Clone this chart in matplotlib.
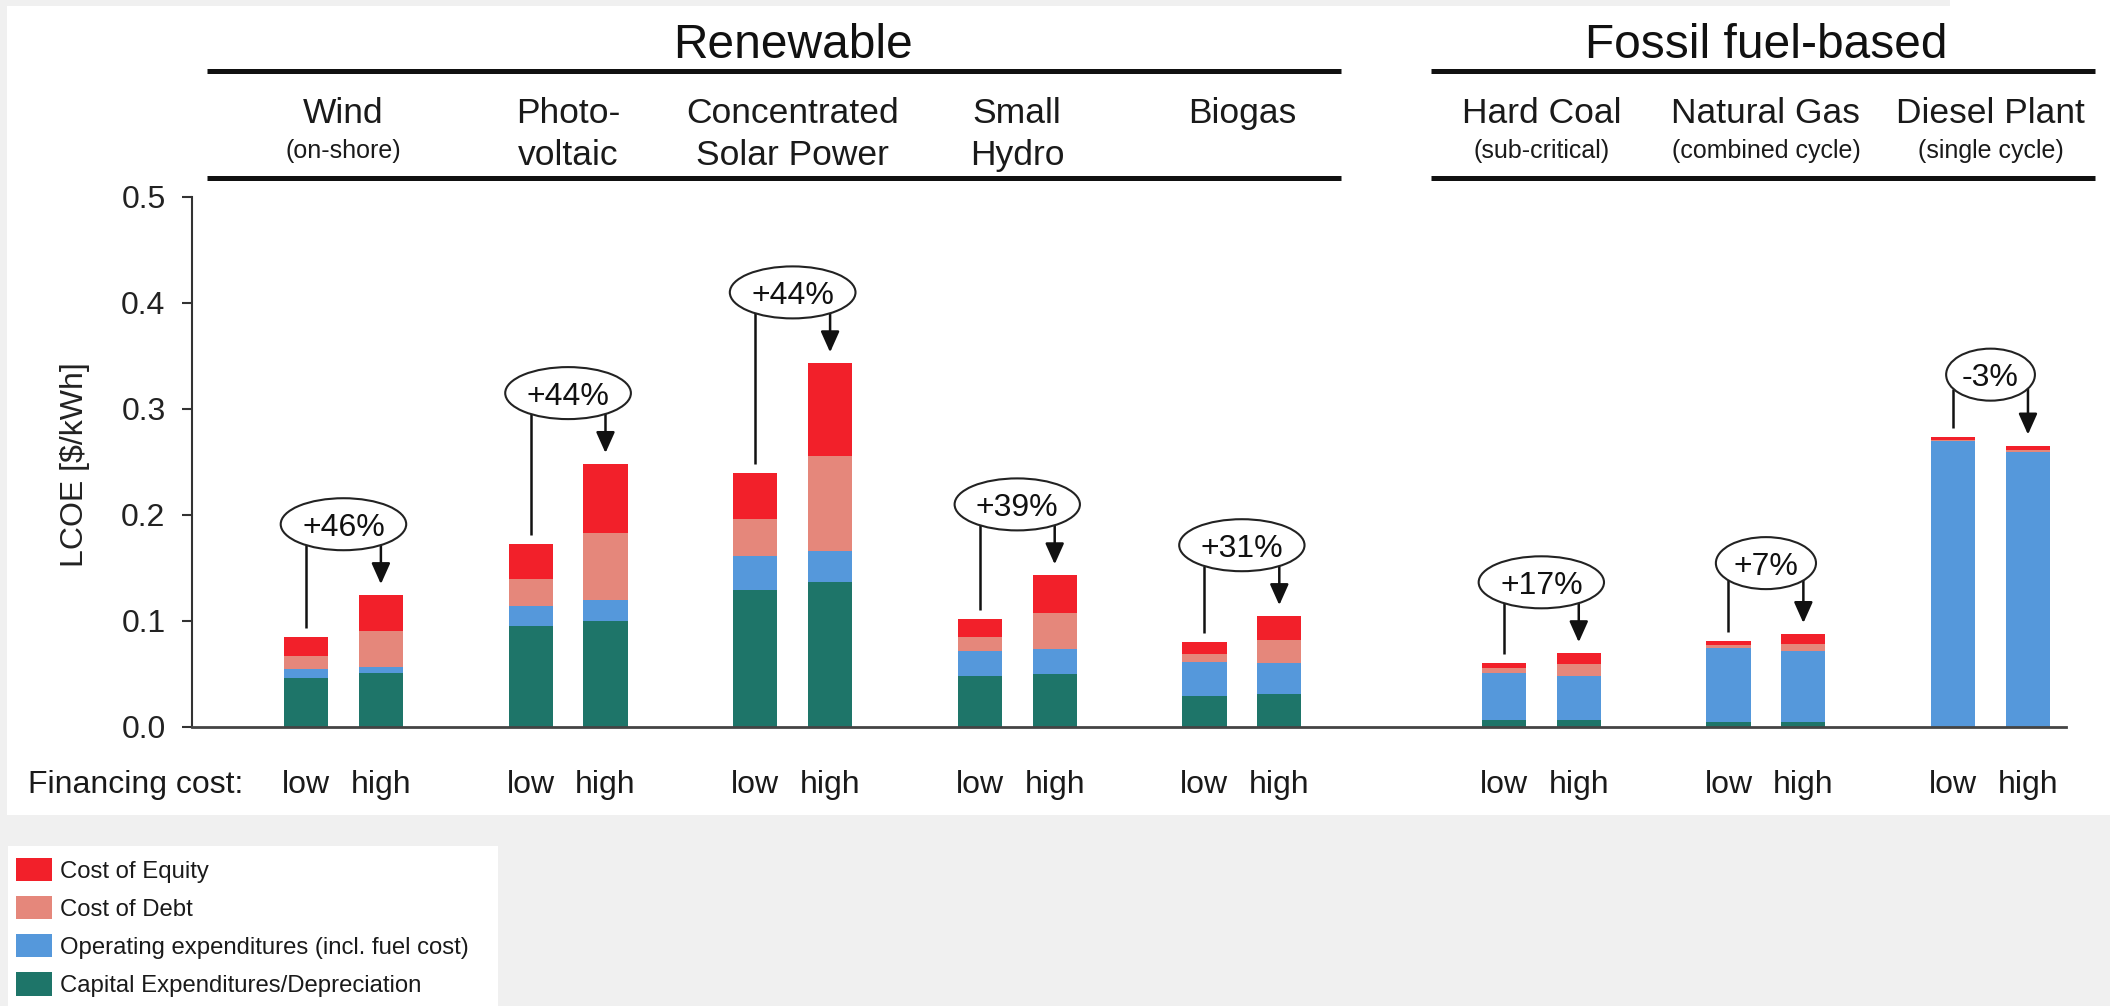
import matplotlib
matplotlib.use("Agg")
import matplotlib.pyplot as plt
from matplotlib.patches import Rectangle, Ellipse, Patch
from matplotlib import transforms
import numpy as np

plt.rcParams['font.family'] = ['Liberation Sans', 'DejaVu Sans']

# ---------------- data ----------------
technologies = ["Wind", "Photo-\nvoltaic", "Concentrated\nSolar Power", "Small\nHydro", "Biogas",
                "Hard Coal", "Natural Gas", "Diesel Plant"]
tech_notes = ["(on-shore)", "", "", "", "", "(sub-critical)", "(combined cycle)", "(single cycle)"]
groups = ["Renewable", "Fossil fuel-based"]
group_members = [[0, 1, 2, 3, 4], [5, 6, 7]]
financing_labels = ["low", "high"]
change_labels = ["+46%", "+44%", "+44%", "+39%", "+31%", "+17%", "+7%", "-3%"]

capex_low   = [0.0460, 0.0956, 0.1297, 0.0484, 0.0295, 0.0070, 0.0050, 0.0000]
opex_low    = [0.0083, 0.0190, 0.0320, 0.0236, 0.0315, 0.0435, 0.0696, 0.2696]
debt_low    = [0.0131, 0.0254, 0.0346, 0.0127, 0.0080, 0.0051, 0.0029, 0.0012]
equity_low  = [0.0177, 0.0327, 0.0437, 0.0173, 0.0115, 0.0051, 0.0035, 0.0032]

capex_high  = [0.0505, 0.0998, 0.1365, 0.0500, 0.0316, 0.0070, 0.0050, 0.0000]
opex_high   = [0.0064, 0.0198, 0.0299, 0.0237, 0.0291, 0.0410, 0.0666, 0.2590]
debt_high   = [0.0341, 0.0636, 0.0897, 0.0341, 0.0213, 0.0110, 0.0064, 0.0020]
equity_high = [0.0333, 0.0648, 0.0869, 0.0352, 0.0225, 0.0105, 0.0096, 0.0044]

component_names = ["Capital Expenditures/Depreciation", "Operating expenditures (incl. fuel cost)",
                   "Cost of Debt", "Cost of Equity"]
component_colors = ["#1E7569", "#5598DB", "#E5877B", "#F2202A"]

# ---------------- layout ----------------
W, H = 2110, 1006
fig = plt.figure(figsize=(W / 100, H / 100), dpi=100)
fig.patch.set_facecolor("#F0F0F0")

def fx(px):
    return px / W

def fy(py):
    return 1 - py / H

# white panels
fig.add_artist(Rectangle((fx(7), fy(815)), fx(W - 7), (815 - 6) / H, transform=fig.transFigure,
                         facecolor="white", edgecolor="none", zorder=-5))
fig.add_artist(Rectangle((fx(1950), fy(6)), fx(160), 6 / H, transform=fig.transFigure,
                         facecolor="white", edgecolor="none", zorder=-5))
fig.add_artist(Rectangle((fx(8), 0), fx(490), (H - 846) / H, transform=fig.transFigure,
                         facecolor="white", edgecolor="none", zorder=-5))

ax = fig.add_axes([fx(192), fy(727), (2066 - 192) / W, (727 - 197) / H])
ax.patch.set_visible(False)

# x positions: group spacing 3 units, extra gap before fossil group
group_start = []
pos = 0
for g, members in enumerate(group_members):
    for m in members:
        group_start.append(pos)
        pos += 3
    pos += 1
group_start = np.array(group_start, dtype=float)
x_low = group_start
x_high = group_start + 1
bar_w = 0.59

ax.set_xlim(-1.523, 23.508)
ax.set_ylim(0, 0.5)

lows = [capex_low, opex_low, debt_low, equity_low]
highs = [capex_high, opex_high, debt_high, equity_high]
bottom_low = np.zeros(len(technologies))
bottom_high = np.zeros(len(technologies))
for vals_l, vals_h, col in zip(lows, highs, component_colors):
    ax.bar(x_low, vals_l, bar_w, bottom=bottom_low, color=col, edgecolor="none", zorder=2)
    ax.bar(x_high, vals_h, bar_w, bottom=bottom_high, color=col, edgecolor="none", zorder=2)
    bottom_low += np.array(vals_l)
    bottom_high += np.array(vals_h)
total_low = bottom_low
total_high = bottom_high

# axes styling
for s in ["top", "right"]:
    ax.spines[s].set_visible(False)
ax.spines["left"].set_bounds(0, 0.5)
ax.spines["left"].set_linewidth(1.5)
ax.spines["left"].set_color("#333333")
ax.spines["bottom"].set_linewidth(2.0)
ax.spines["bottom"].set_color("#444444")
ax.set_yticks([0.0, 0.1, 0.2, 0.3, 0.4, 0.5])
ax.set_yticklabels(["0.0", "0.1", "0.2", "0.3", "0.4", "0.5"])
ax.tick_params(axis="y", direction="out", length=7, width=1.5, pad=12, labelsize=23,
               color="#333333", labelcolor="#222222")
ax.set_xticks([])
fig.text(fx(75), fy(465), "LCOE [$/kWh]", rotation=90, ha="center", va="center",
         fontsize=23, color="#222222")

# financing labels
tr_lab = transforms.blended_transform_factory(ax.transData, fig.transFigure)
for xl, xh in zip(x_low, x_high):
    ax.text(xl, fy(793), financing_labels[0], transform=tr_lab, ha="center", va="baseline",
            fontsize=23, color="#1a1a1a")
    ax.text(xh, fy(793), financing_labels[1], transform=tr_lab, ha="center", va="baseline",
            fontsize=23, color="#1a1a1a")
fig.text(fx(28), fy(793), "Financing cost:", ha="left", va="baseline", fontsize=23, color="#1a1a1a")

# headers
centers = (x_low + x_high) / 2
for i, (name, note) in enumerate(zip(technologies, tech_notes)):
    lines = name.split("\n")
    ax.text(centers[i], fy(123), lines[0], transform=tr_lab, ha="center", va="baseline",
            fontsize=25.5, color="#1a1a1a")
    if len(lines) > 1:
        ax.text(centers[i], fy(165), lines[1], transform=tr_lab, ha="center", va="baseline",
                fontsize=25.5, color="#1a1a1a")
    if note:
        ax.text(centers[i], fy(158), note, transform=tr_lab, ha="center", va="baseline",
                fontsize=18, color="#1a1a1a")

line_spans = [(-1.32, 13.83), (15.02, 23.9)]
for g, members in enumerate(group_members):
    gc = (x_low[members[0]] + x_high[members[-1]]) / 2
    ax.text(gc, fy(58), groups[g], transform=tr_lab, ha="center", va="baseline",
            fontsize=34.5, color="#111111")
    a, b = line_spans[g]
    for yy in (71, 178):
        ax.plot([a, b], [fy(yy), fy(yy)], transform=tr_lab, color="#111111", lw=3.6,
                solid_capstyle="butt", clip_on=False)

# change annotations
fig.canvas.draw()
renderer = fig.canvas.get_renderer()
px_x = 1874 / (23.508 + 1.523)
px_y = 530 / 0.5
ell_h = 52 / px_y
for i, lab in enumerate(change_labels):
    cx = centers[i]
    cy = total_high[i] + 0.067
    t = ax.text(cx, cy, lab, ha="center", va="center_baseline", fontsize=23, color="#111111", zorder=6)
    bb = t.get_window_extent(renderer=renderer)
    ell_w = (bb.width * 1.42 + 8) / px_x
    ax.add_patch(Ellipse((cx, cy), ell_w, ell_h, facecolor="white", edgecolor="#222222",
                         lw=1.5, zorder=5))

    def edge_y(x):
        r = (x - cx) / (ell_w / 2)
        r = min(abs(r), 0.99)
        return cy - (ell_h / 2) * np.sqrt(1 - r * r)

    xl = x_low[i]
    ax.plot([xl, xl], [total_low[i] + 0.0085, edge_y(xl)], color="#111111", lw=1.8,
            solid_capstyle="butt", zorder=4)
    xh = x_high[i]
    ax.annotate("", xy=(xh, total_high[i] + 0.0105), xytext=(xh, edge_y(xh)),
                arrowprops=dict(arrowstyle="-|>,head_length=0.85,head_width=0.38", lw=1.8,
                                color="#111111", mutation_scale=15, shrinkA=0, shrinkB=0),
                zorder=4)

# legend
handles = [Patch(facecolor=component_colors[k], edgecolor="none", label=component_names[k])
           for k in [3, 2, 1, 0]]
fig.legend(handles=handles, loc="upper left", bbox_to_anchor=(fx(16), fy(858)),
           bbox_transform=fig.transFigure, frameon=False, fontsize=17.2,
           handlelength=1.52, handleheight=1.12, handletextpad=0.32, labelspacing=0.56,
           borderpad=0, borderaxespad=0, labelcolor="#1a1a1a")

fig.savefig("out.png", dpi=100, facecolor=fig.get_facecolor())
